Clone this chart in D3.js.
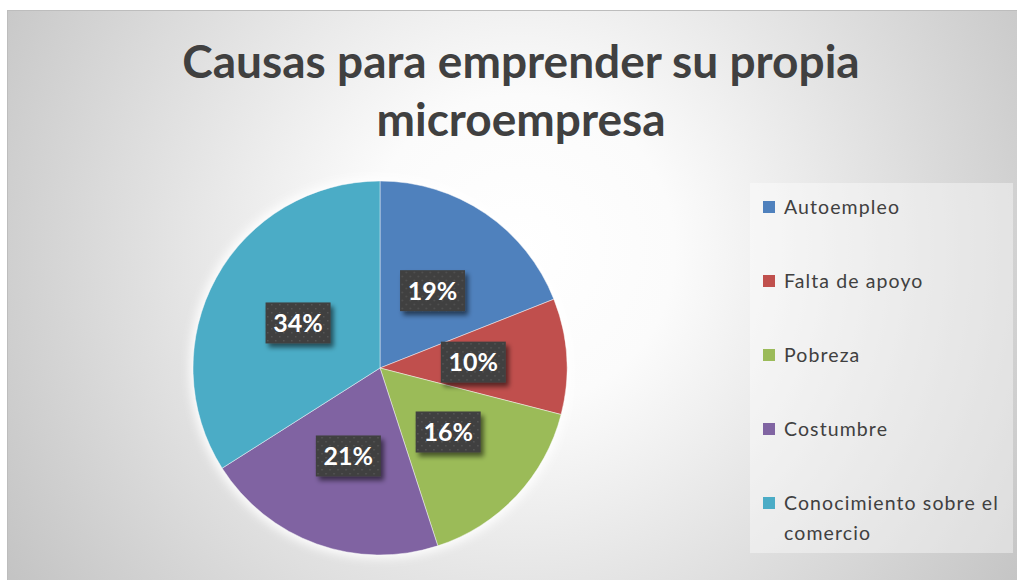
<!DOCTYPE html>
<html>
<head>
<meta charset="utf-8">
<script src="https://cdn.jsdelivr.net/npm/d3@7"></script>
<style>
  html, body { margin: 0; padding: 0; background: #fff; }
  svg { display: block; }
</style>
</head>
<body>
<svg id="chart" width="1017" height="580"></svg>
<script>
// chart data
const categories = ['Autoempleo', 'Falta de apoyo', 'Pobreza', 'Costumbre', 'Conocimiento sobre el comercio'];
const values = [19, 10, 16, 21, 34];
const colors = ['#4f81bd', '#c0504d', '#9bbb59', '#8064a2', '#4bacc6'];
const titleLines = ['Causas para emprender su propia', 'microempresa'];
const legendLines = [['Autoempleo'], ['Falta de apoyo'], ['Pobreza'], ['Costumbre'], ['Conocimiento sobre el', 'comercio']];

const svg = d3.select('#chart');
const W = 1017, H = 580;
const cx = 380, cy = 368, R = 187;

let defs = svg.append('defs');

let bg = defs.append('radialGradient')
    .attr('id', 'bgGrad')
    .attr('gradientUnits', 'userSpaceOnUse')
    .attr('cx', 520).attr('cy', 250).attr('r', 620);
bg.append('stop').attr('offset', 0).attr('stop-color', '#ffffff');
bg.append('stop').attr('offset', 0.25).attr('stop-color', '#fbfbfb');
bg.append('stop').attr('offset', 1).attr('stop-color', '#c2c2c2');

// soft white glow around the pie
let glow = defs.append('filter').attr('id', 'glow')
    .attr('x', '-10%').attr('y', '-10%').attr('width', '120%').attr('height', '120%');
glow.append('feMorphology').attr('in', 'SourceAlpha').attr('operator', 'dilate').attr('radius', 3).attr('result', 'd');
glow.append('feGaussianBlur').attr('in', 'd').attr('stdDeviation', 5).attr('result', 'b');
glow.append('feFlood').attr('flood-color', '#ffffff').attr('flood-opacity', 0.9);
glow.append('feComposite').attr('in2', 'b').attr('operator', 'in').attr('result', 'g');
let gm = glow.append('feMerge');
gm.append('feMergeNode').attr('in', 'g');
gm.append('feMergeNode').attr('in', 'SourceGraphic');

// label box shadow
let shadow = defs.append('filter').attr('id', 'shadow')
    .attr('x', '-20%').attr('y', '-20%').attr('width', '150%').attr('height', '160%');
shadow.append('feGaussianBlur').attr('in', 'SourceAlpha').attr('stdDeviation', 2.5).attr('result', 'b');
shadow.append('feOffset').attr('in', 'b').attr('dx', 3).attr('dy', 4).attr('result', 'o');
shadow.append('feComponentTransfer').attr('in', 'o').attr('result', 's')
    .append('feFuncA').attr('type', 'linear').attr('slope', 0.55);
let sm = shadow.append('feMerge');
sm.append('feMergeNode').attr('in', 's');
sm.append('feMergeNode').attr('in', 'SourceGraphic');

// dotted texture for the data labels
let pat = defs.append('pattern').attr('id', 'dots')
    .attr('patternUnits', 'userSpaceOnUse')
    .attr('width', 8).attr('height', 8);
pat.append('rect').attr('width', 8).attr('height', 8).attr('fill', '#3f3f3f');
pat.append('rect').attr('x', 1).attr('y', 1).attr('width', 1.5).attr('height', 1.5).attr('fill', '#575757');
pat.append('rect').attr('x', 5).attr('y', 5).attr('width', 1.5).attr('height', 1.5).attr('fill', '#575757');

// background
svg.append('rect')
    .attr('x', 7.5).attr('y', 10.5)
    .attr('width', W).attr('height', H)
    .attr('fill', 'url(#bgGrad)')
    .attr('stroke', '#bdbdbd');

// title
svg.append('text')
    .attr('text-anchor', 'middle')
    .style('font', "bold 46px Lato")
    .attr('fill', '#404040')
    .selectAll('tspan')
    .data(titleLines)
    .join('tspan')
        .attr('x', 521)
        .attr('y', (d, i) => 78 + i * 58)
        .text(d => d);

// pie
let pie = d3.pie().sort(null).value(d => d)
    .startAngle(0).endAngle(2 * Math.PI);
let arcs = pie(values);
let arc = d3.arc().innerRadius(0).outerRadius(R);

let gPie = svg.append('g')
    .attr('transform', `translate(${cx}, ${cy})`);

gPie.append('g')
    .attr('filter', 'url(#glow)')
    .selectAll('path')
    .data(arcs)
    .join('path')
        .attr('d', arc)
        .attr('fill', (d, i) => colors[i])
        .attr('stroke', 'rgba(255,255,255,0.55)')
        .attr('stroke-width', 0.8);

let fmt = d3.format('.0%');
let total = d3.sum(values);
let bw = 65, bh = 41;

let labels = gPie.append('g')
    .selectAll('g')
    .data(arcs)
    .join('g')
        .attr('transform', d => {
            let [x, y] = arc.centroid(d);
            return `translate(${x}, ${y})`;
        });

labels.append('rect')
    .attr('x', -bw / 2).attr('y', -bh / 2)
    .attr('width', bw).attr('height', bh)
    .attr('fill', 'url(#dots)')
    .attr('filter', 'url(#shadow)');

labels.append('text')
    .attr('text-anchor', 'middle')
    .attr('dy', '0.36em')
    .style('font', "bold 25px Lato")
    .attr('fill', '#ffffff')
    .text(d => fmt(d.value / total));

// legend
let lx = 750, ly = 183;
svg.append('rect')
    .attr('x', lx).attr('y', ly)
    .attr('width', 263).attr('height', 370)
    .attr('fill', '#ffffff')
    .attr('fill-opacity', 0.4);

let legendY = d3.scalePoint()
    .domain(categories)
    .range([207, 503]);

let items = svg.append('g')
    .selectAll('g')
    .data(categories)
    .join('g')
        .attr('transform', d => `translate(${lx + 13}, ${legendY(d)})`);

items.append('rect')
    .attr('x', 0).attr('y', -6)
    .attr('width', 12).attr('height', 12)
    .attr('fill', (d, i) => colors[i]);

items.append('text')
    .style('font', "19.5px Lato")
    .style('letter-spacing', '1.1px')
    .attr('fill', '#404040')
    .selectAll('tspan')
    .data((d, i) => legendLines[i])
    .join('tspan')
        .attr('x', 21)
        .attr('y', (d, i) => 7 + i * 30)
        .text(d => d);
</script>
</body>
</html>
